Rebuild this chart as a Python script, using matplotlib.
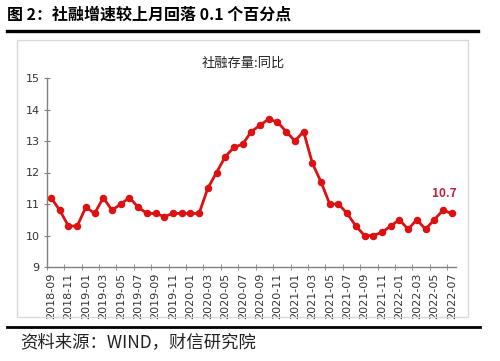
import matplotlib.pyplot as plt
import matplotlib.patches as patches
from matplotlib.lines import Line2D

plt.rcParams['font.family'] = ['Noto Sans CJK SC', 'DejaVu Sans']

# monthly data, 2018-09 .. 2022-07
months = [f"{y}-{m:02d}" for y in range(2018, 2023) for m in range(1, 13)]
months = months[months.index("2018-09"):months.index("2022-07") + 1]
tsf_yoy = [11.2, 10.8, 10.3, 10.3, 10.9, 10.7, 11.2, 10.8, 11.0, 11.2, 10.9, 10.7,
           10.7, 10.6, 10.7, 10.7, 10.7, 10.7, 11.5, 12.0, 12.5, 12.8, 12.9, 13.3,
           13.5, 13.7, 13.6, 13.3, 13.0, 13.3, 12.3, 11.7, 11.0, 11.0, 10.7, 10.3,
           10.0, 10.0, 10.1, 10.3, 10.5, 10.2, 10.5, 10.2, 10.5, 10.8, 10.7]
series_name = "社融存量:同比"
title = "图 2：社融增速较上月回落 0.1 个百分点"
source = "资料来源：WIND，财信研究院"

W, H = 500, 361
fig = plt.figure(figsize=(5, 3.61), dpi=100)

def fx(px):
    return px / W

def fy(py):
    return 1 - py / H

# title, rules and frame
fig.text(fx(7), fy(15), title, fontsize=11.5, fontweight='bold', va='center', ha='left')
fig.add_artist(Line2D([fx(7), fx(478)], [fy(31), fy(31)], color='black', lw=2.4))
fig.add_artist(patches.Rectangle((fx(17), fy(317)), fx(451), 277 / H, fill=False,
                                 edgecolor='#D9D9D9', lw=1.0, transform=fig.transFigure))
fig.add_artist(Line2D([fx(7), fx(480)], [fy(326.5), fy(326.5)], color='black', lw=2.0))
fig.text(fx(20), fy(342), source, fontsize=12.5, va='center', ha='left', color='#222222')

ax = fig.add_axes([fx(46.7), fy(267), fx(456 - 46.7), (267 - 78) / H])
x = list(range(len(months)))
ax.plot(x, tsf_yoy, color='#DD1111', lw=2.0, marker='o', markersize=4.4, clip_on=False)
ax.annotate(f"{tsf_yoy[-1]}", xy=(x[-1], tsf_yoy[-1]), xytext=(-5, 10), textcoords='offset points',
            ha='center', va='bottom', fontsize=8.5, fontweight='bold', color='#C0203A')
ax.text(0.48, 1.08, series_name, transform=ax.transAxes, ha='center', va='center',
        fontsize=9.5, color='#222222')

ax.set_xlim(-0.5, len(months) - 0.5)
ax.set_ylim(9, 15)
ax.set_yticks(range(9, 16))
ax.set_xticks(x[::2])
ax.set_xticklabels(months[::2], rotation=90, fontsize=8, color='#333333', family='DejaVu Sans')
ax.set_xticks([i - 0.5 for i in range(0, len(months) + 1, 2)], minor=True)
ax.tick_params(axis='x', which='major', length=0, pad=4)
ax.tick_params(axis='x', which='minor', length=4, direction='inout', color='#808080')
ax.tick_params(axis='y', length=4, direction='inout', color='#808080', labelsize=8,
               labelcolor='#333333', pad=3)
for lab in ax.get_yticklabels():
    lab.set_family('DejaVu Sans')
for s in ['top', 'right']:
    ax.spines[s].set_visible(False)
for s in ['left', 'bottom']:
    ax.spines[s].set_color('#808080')
    ax.spines[s].set_linewidth(1.0)

fig.savefig("out.png", dpi=100)
